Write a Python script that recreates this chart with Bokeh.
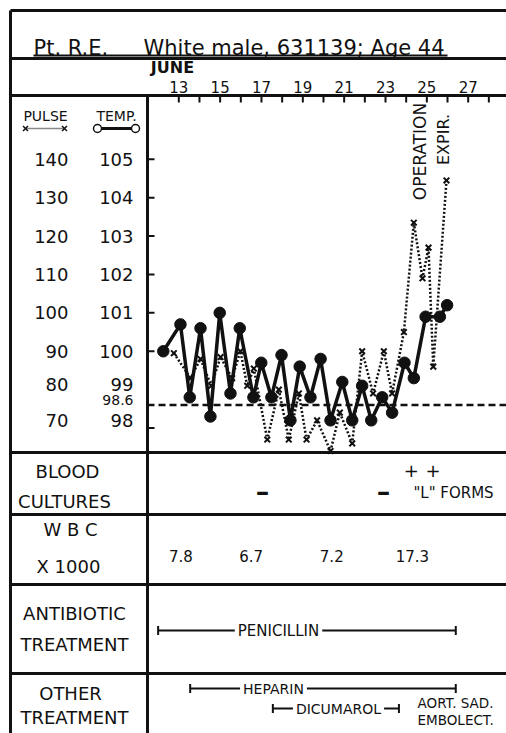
import math
from bokeh.plotting import figure
from bokeh.models import Range1d
from bokeh.core.properties import value
from bokeh.embed import file_html
from bokeh.resources import INLINE

# ---------------- data ----------------
temp_day = [12.25, 13.08, 13.53, 14.05, 14.53, 14.98, 15.50, 15.95, 16.61, 16.99,
            17.48, 17.97, 18.40, 18.85, 19.37, 19.86, 20.34, 20.91, 21.39, 21.87,
            22.31, 22.84, 23.32, 23.92, 24.37, 24.94, 25.63, 25.98]
temp_f = [100.0, 100.7, 98.8, 100.6, 98.3, 101.0, 98.9, 100.6, 98.8, 99.7,
          98.8, 99.9, 98.2, 99.6, 98.8, 99.8, 98.2, 99.2, 98.2, 99.1,
          98.2, 98.8, 98.4, 99.7, 99.3, 100.9, 100.9, 101.2]
pulse_day = [12.76, 13.57, 14.05, 14.57, 15.02, 15.58, 15.98, 16.31, 16.63, 17.28,
             17.84, 18.32, 18.81, 19.18, 19.69, 20.34, 20.79, 21.39, 21.87, 22.40,
             22.92, 23.32, 23.89, 24.37, 24.79, 25.08, 25.31, 25.95]
pulse_rate = [89.5, 83, 88, 81, 88.5, 83, 90, 81, 85.5, 67,
              80, 67, 79, 67, 72, 64, 74, 66, 90, 79,
              90, 79, 95, 123.5, 109, 117, 86, 134.5]

day_ticks = list(range(13, 29))
day_label_days = [13, 15, 17, 19, 21, 23, 25, 27]
day_labels = ["13", "15", "17", "19", "21", "23", "25", "27"]
month_label = "JUNE"

pulse_scale = [140, 130, 120, 110, 100, 90, 80, 70]
pulse_scale_labels = ["140", "130", "120", "110", "100", "90", "80", "70"]
temp_scale = [105, 104, 103, 102, 101, 100, 99, 98]
temp_scale_labels = ["105", "104", "103", "102", "101", "100", "99", "98"]
temp_tick_marks = [105, 104, 103, 102, 101, 100, 98]
normal_temp = 98.6
normal_temp_label = "98.6"

culture_neg_day = [17.05, 22.9]
culture_pos_day = [24.25, 25.3]
culture_note = '"L" FORMS'

wbc_day = [13.1, 16.5, 20.4, 24.3]
wbc_value = ["7.8", "6.7", "7.2", "17.3"]

penicillin_span = [12.0, 26.4]
heparin_span = [13.55, 26.4]
dicumarol_span = [17.55, 23.65]
operation_day = 24.65
expired_day = 25.8
embolectomy_day = 24.55

title_left = "Pt. R.E."
title_right = "White male, 631139; Age 44"

# ---------------- figure ----------------
W, H = 506, 733
PXD = 20.67      # pixels per day
PXT = 38.38      # pixels per degree F
X_LO = 13 - 178.3 / PXD
X_HI = X_LO + W / PXD
Y_HI = 101.45 + 295.1 / PXT
Y_LO = Y_HI - H / PXT

p = figure(width=W, height=H, x_range=Range1d(X_LO, X_HI), y_range=Range1d(Y_LO, Y_HI),
           output_backend="svg", toolbar_location=None, min_border=0,
           x_axis_location=None, y_axis_location=None,
           background_fill_color="white", border_fill_color="white",
           outline_line_color=None)
p.grid.visible = False


def px(xs):
    """canvas pixel x -> day units (layout helper)"""
    return X_LO + xs / PXD


def py(ys):
    """canvas pixel y -> temperature units (layout helper)"""
    return Y_HI - ys / PXT


def dy(pix):
    return pix / PXT


def pulse_to_temp(pr):
    return 98 + (pr - 70) / 10.0


INK = "#111111"
FONT = value("DejaVu Sans")
RIGHT = px(530)

# ---------------- frame / table lines ----------------
hy = [py(10), py(58), py(95), py(452), py(514), py(584), py(673)]
p.segment(x0=[px(10)] * len(hy), y0=hy, x1=[RIGHT] * len(hy), y1=hy, line_color=INK, line_width=3)
p.segment(x0=[px(10), px(147)], y0=[py(10), py(95)], x1=[px(10), px(147)], y1=[py(760), py(760)],
          line_color=INK, line_width=3)

# title
p.text(x=[px(33), px(143)], y=[py(47), py(47)], text=[title_left, title_right],
       text_font=FONT, text_font_size="21px", text_color=INK,
       text_align="left", text_baseline="middle")
p.segment(x0=[px(33)], y0=[py(55)], x1=[px(447)], y1=[py(55)], line_color=INK, line_width=2)

# month + day labels and ticks
p.text(x=[px(172)], y=[py(67)], text=[month_label], text_font=FONT, text_font_size="16px",
       text_font_style="bold", text_color=INK, text_align="center", text_baseline="middle")
p.text(x=day_label_days, y=[py(86)] * len(day_label_days), text=day_labels, text_font=FONT,
       text_font_size="15px", text_color=INK, text_align="center", text_baseline="middle")
p.segment(x0=day_ticks, y0=[py(95)] * len(day_ticks), x1=day_ticks, y1=[py(102)] * len(day_ticks),
          line_color=INK, line_width=2)

# scale header
p.text(x=[px(45), px(116)], y=[py(115), py(115)], text=["PULSE", "TEMP."], text_font=FONT,
       text_font_size="14px", text_color=INK, text_align="center", text_baseline="middle")
p.segment(x0=[px(25)], y0=[py(128)], x1=[px(64)], y1=[py(128)], line_color=INK,
          line_width=1.5, line_dash="1 1")
p.scatter(x=[px(25), px(64)], y=[py(128), py(128)], marker="x", size=7, line_color=INK, line_width=1.5)
p.segment(x0=[px(97)], y0=[py(128)], x1=[px(135)], y1=[py(128)], line_color=INK, line_width=3)
p.scatter(x=[px(97), px(135)], y=[py(128), py(128)], marker="circle", size=8, line_color=INK,
          fill_color="white", line_width=1.5)

# scale labels (lowest labels sit a little above their lines, as lettered)
label_lift = [0, 0, 0, 0, 0, 0, dy(5), dy(8)]
p.text(x=[px(68)] * len(pulse_scale),
       y=[pulse_to_temp(v) + l for v, l in zip(pulse_scale, label_lift)], text=pulse_scale_labels,
       text_font=FONT, text_font_size="18px", text_color=INK, text_align="right", text_baseline="middle")
p.text(x=[px(133)] * len(temp_scale), y=[v + l for v, l in zip(temp_scale, label_lift)],
       text=temp_scale_labels,
       text_font=FONT, text_font_size="18px", text_color=INK, text_align="right", text_baseline="middle")
p.text(x=[px(133)], y=[normal_temp + dy(4.5)], text=[normal_temp_label],
       text_font=FONT, text_font_size="14px", text_color=INK, text_align="right", text_baseline="middle")
p.segment(x0=[px(147)] * len(temp_tick_marks), y0=temp_tick_marks, x1=[px(154)] * len(temp_tick_marks),
          y1=temp_tick_marks, line_color=INK, line_width=2)

# normal temperature dashed line
p.segment(x0=[px(147)], y0=[normal_temp], x1=[RIGHT], y1=[normal_temp], line_color=INK,
          line_width=2.5, line_dash="7 4")

# ---------------- pulse and temperature ----------------
pulse_y = [pulse_to_temp(v) for v in pulse_rate]
p.line(x=pulse_day, y=pulse_y, line_color=INK, line_width=2.5, line_dash="2 2")
p.scatter(x=pulse_day, y=pulse_y, marker="x", size=8, line_color=INK, line_width=2)
p.line(x=temp_day, y=temp_f, line_color=INK, line_width=3.5)
p.scatter(x=temp_day, y=temp_f, marker="circle", size=11.5, line_color=INK, fill_color=INK)

# event annotations
p.text(x=[operation_day], y=[py(151)], text=["OPERATION"], angle=math.pi / 2, text_font=FONT,
       text_font_size="17px", text_color=INK, text_align="center", text_baseline="middle")
p.text(x=[expired_day], y=[py(139)], text=["EXPIR."], angle=math.pi / 2, text_font=FONT,
       text_font_size="16px", text_color=INK, text_align="center", text_baseline="middle")

# ---------------- blood cultures ----------------
p.text(x=[px(67), px(64)], y=[py(471), py(501)], text=["BLOOD", "CULTURES"], text_font=FONT,
       text_font_size="18px", text_color=INK, text_align="center", text_baseline="middle")
p.text(x=culture_neg_day, y=[py(491)] * len(culture_neg_day), text=["–"] * len(culture_neg_day),
       text_font=FONT, text_font_size="27px", text_font_style="bold", text_color=INK,
       text_align="center", text_baseline="middle")
p.text(x=culture_pos_day, y=[py(470)] * len(culture_pos_day), text=["+"] * len(culture_pos_day),
       text_font=FONT, text_font_size="18px", text_color=INK, text_align="center", text_baseline="middle")
p.text(x=[px(453)], y=[py(492)], text=[culture_note], text_font=FONT,
       text_font_size="15px", text_color=INK, text_align="center", text_baseline="middle")

# ---------------- WBC ----------------
p.text(x=[px(70), px(68)], y=[py(529), py(566)], text=["W B C", "X 1000"], text_font=FONT,
       text_font_size="18px", text_color=INK, text_align="center", text_baseline="middle")
p.text(x=wbc_day, y=[py(555)] * len(wbc_day), text=wbc_value, text_font=FONT,
       text_font_size="15px", text_color=INK, text_align="center", text_baseline="middle")

# ---------------- treatments ----------------
p.text(x=[px(74), px(74), px(70), px(74)], y=[py(613), py(644), py(693), py(717)],
       text=["ANTIBIOTIC", "TREATMENT", "OTHER", "TREATMENT"], text_font=FONT,
       text_font_size="18px", text_color=INK, text_align="center", text_baseline="middle")


def span(bar, ys, label, label_x, size):
    y = py(ys)
    p.segment(x0=[bar[0]], y0=[y], x1=[bar[1]], y1=[y], line_color=INK, line_width=2)
    cap = dy(4.5)
    p.segment(x0=bar, y0=[y - cap, y - cap], x1=bar, y1=[y + cap, y + cap], line_color=INK, line_width=2)
    p.text(x=[label_x], y=[y], text=[label], text_font=FONT, text_font_size=size, text_color=INK,
           text_align="center", text_baseline="middle", background_fill_color="white", padding=3)


span(penicillin_span, 630, "PENICILLIN", px(278), "15px")
span(heparin_span, 688, "HEPARIN", px(273), "14px")
span(dicumarol_span, 708, "DICUMAROL", px(338), "14px")

p.text(x=[embolectomy_day, embolectomy_day], y=[py(702), py(719)], text=["AORT. SAD.", "EMBOLECT."],
       text_font=FONT, text_font_size="13.5px", text_color=INK, text_align="left", text_baseline="middle")

open("out.html", "w").write(file_html(p, INLINE))
